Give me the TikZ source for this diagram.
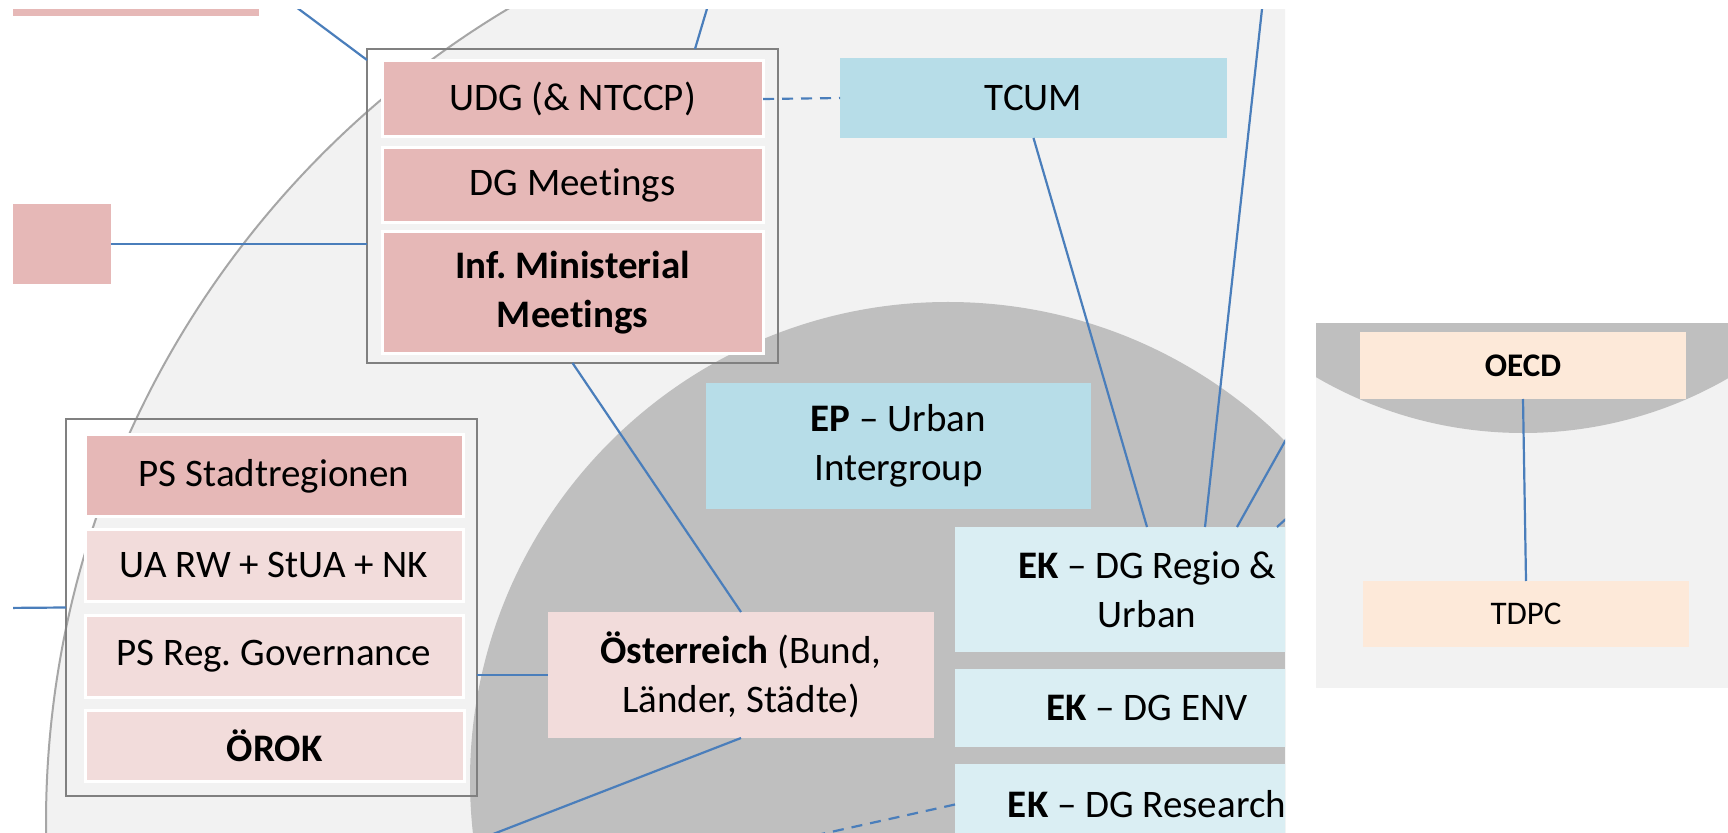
\documentclass[tikz,border=0pt]{standalone}
\usepackage{fontspec}
\setmainfont{Carlito}[Ligatures=NoCommon]
\frenchspacing
\usetikzlibrary{calc}
\definecolor{lgray}{HTML}{F2F2F2}
\definecolor{dgray}{HTML}{BFBFBF}
\definecolor{ringline}{HTML}{A6A6A6}
\definecolor{grpline}{HTML}{808080}
\definecolor{pinkD}{HTML}{E6B8B7}
\definecolor{pinkL}{HTML}{F2DCDB}
\definecolor{blueD}{HTML}{B7DDE8}
\definecolor{blueL}{HTML}{DAEEF3}
\definecolor{peach}{HTML}{FDE9D9}
\definecolor{conn}{HTML}{4A7EBB}
\newcommand\mainfs{\fontsize{19.5}{24.5}\selectfont}
\newcommand\smallfs{\fontsize{16.5}{20}\selectfont}
\tikzset{
  base/.style={inner sep=0pt, outer sep=0pt, align=center, font=\mainfs, text=black},
  pinkdark/.style={base, fill=pinkD},
  pinklight/.style={base, fill=pinkL},
  bluedark/.style={base, fill=blueD},
  bluelight/.style={base, fill=blueL},
  peachbox/.style={base, fill=peach, font=\smallfs},
  inbox/.style={draw=white, line width=1.5pt},
  grpbox/.style={inner sep=0pt, outer sep=0pt, draw=grpline, line width=1pt},
  link/.style={draw=conn, line width=1.1pt},
  dlink/.style={link, dash pattern=on 5.5pt off 4pt}
}
\begin{document}
\begin{tikzpicture}[x=0.5pt,y=-0.5pt]
\useasboundingbox (0,0) rectangle (1728,833);
\fill[white] (0,0) rectangle (1728,833);

% ---------- main panel ----------
\begin{scope}
\clip (13,10) rectangle (1285,833);
\fill[lgray] (994,823) circle [radius=948];
\draw[ringline, line width=1pt] (994,823) circle [radius=948];
\fill[dgray] (948,780) circle [radius=478];

% clipped boxes at the edges
\node[pinkdark, minimum width=123pt, minimum height=38pt] (topbar) at (136,-22) {};
\node[pinkdark, minimum width=49pt, minimum height=40pt] (small) at (62,244) {};

% group 1
\node[grpbox, minimum width=205.5pt, minimum height=157pt] (grp1) at (572.5,206) {};
\node[pinkdark, inbox, minimum width=190.5pt, minimum height=38pt] (udg) at (572.5,99) {UDG (\&~NTCCP)};
\node[pinkdark, inbox, minimum width=190.5pt, minimum height=37.5pt] (dgm) at (572.5,185.5) {DG Meetings};
\node[pinkdark, inbox, minimum width=190.5pt, minimum height=61pt] (inf) at (572.5,293) {\textbf{Inf. Ministerial}\\\textbf{Meetings}};

\node[bluedark, minimum width=193.5pt, minimum height=40pt] (tcum) at (1033.5,98) {TCUM};
\node[bluedark, minimum width=192.5pt, minimum height=63pt] (ep) at (898.5,446) {\textbf{EP} – Urban\\Intergroup};

\node[bluelight, minimum width=192pt, minimum height=62.5pt] (ekr) at (1147,589.5) {\textbf{EK} – DG Regio \&\\Urban};
\node[bluelight, minimum width=192pt, minimum height=39pt] (ekenv) at (1147,708) {\textbf{EK} – DG ENV};
\node[bluelight, minimum width=192pt, minimum height=40.5pt] (ekres) at (1147,804.5) {\textbf{EK} – DG Research};

\node[pinklight, minimum width=193pt, minimum height=63pt] (oe) at (741,675) {\textbf{Österreich} (Bund,\\Länder, Städte)};

% group 2
\node[grpbox, minimum width=205.5pt, minimum height=188.5pt] (grp2) at (271.5,607.5) {};
\node[pinkdark, inbox, minimum width=189pt, minimum height=41pt] (psst) at (274,476) {PS Stadtregionen};
\node[pinklight, inbox, minimum width=189pt, minimum height=36pt] (ua) at (274,565) {UA RW + StUA + NK};
\node[pinklight, inbox, minimum width=189pt, minimum height=41pt] (psreg) at (274,656) {PS Reg. Governance};
\node[pinklight, inbox, minimum width=189.5pt, minimum height=35.5pt] (orok) at (274.5,745.5) {\textbf{ÖROK}};

% free ends
\coordinate (f1) at (292,4);
\coordinate (f2) at (709,2);
\coordinate (f3) at (1263,0);
\coordinate (f4) at (1293,427);
\coordinate (f5) at (1297,509);
\coordinate (f6) at (2,608);
\coordinate (f7) at (470,843);
\coordinate (f8) at (790,841);

% connectors
\draw[link] (f1) -- ($(grp1.north west)+(0,11)$);
\draw[link] (f2) -- ($(grp1.north west)+(328,0)$);
\draw[link] (small.east) -- (grp1.west |- small.east);
\draw[dlink] (udg.east) -- (tcum.west);
\draw[link] (tcum.south) -- (ekr.north);
\draw[link] (f3) -- ($(ekr.north)+(58,0)$);
\draw[link] (f4) -- ($(ekr.north)+(90,0)$);
\draw[link] (f5) -- ($(ekr.north)+(130,0)$);
\draw[link] (grp1.south) -- (oe.north);
\draw[link] (oe.south) -- (f7);
\draw[dlink] (ekres.west) -- (f8);
\draw[link] (f6) -- (grp2.west);
\draw[link] (grp2.east |- oe.west) -- (oe.west);
\end{scope}

% ---------- right panel ----------
\begin{scope}
\clip (1316,324) rectangle (1728,688);
\fill[lgray] (1316,324) rectangle (1728,688);
\fill[dgray] (1523,22) circle [radius=411];
\node[peachbox, minimum width=163pt, minimum height=33.5pt] (oecd) at (1523,365.5) {\textbf{OECD}};
\node[peachbox, minimum width=163pt, minimum height=33pt] (tdpc) at (1526,614) {TDPC};
\draw[link] (oecd.south) -- (tdpc.north);
\end{scope}
\end{tikzpicture}
\end{document}
